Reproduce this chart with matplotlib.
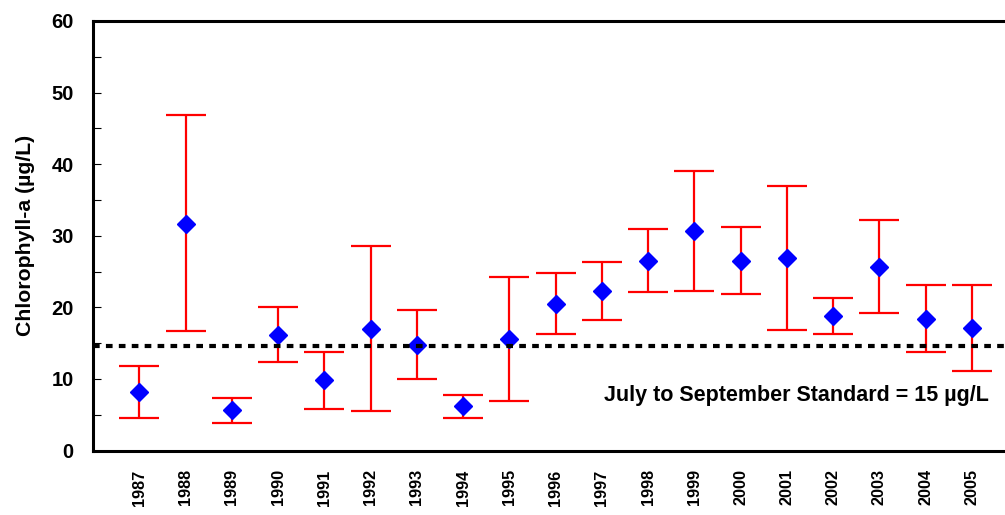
import matplotlib
matplotlib.use("Agg")
import matplotlib.pyplot as plt
from matplotlib.ticker import MultipleLocator

years = [1987, 1988, 1989, 1990, 1991, 1992, 1993, 1994, 1995, 1996,
         1997, 1998, 1999, 2000, 2001, 2002, 2003, 2004, 2005]
means = [8.2, 31.7, 5.6, 16.2, 9.8, 17.0, 14.7, 6.2, 15.6, 20.5,
         22.3, 26.5, 30.7, 26.5, 26.9, 18.8, 25.7, 18.4, 17.1]
upper = [11.85, 46.9, 7.4, 20.1, 13.8, 28.5, 19.6, 7.8, 24.3, 24.8,
         26.3, 30.9, 39.0, 31.2, 36.9, 21.3, 32.2, 23.1, 23.1]
lower = [4.6, 16.7, 3.9, 12.3, 5.8, 5.5, 10.0, 4.6, 6.9, 16.3,
         18.3, 22.1, 22.3, 21.8, 16.9, 16.3, 19.2, 13.8, 11.15]
standard_line = 14.6
year_labels = [str(y) for y in years]

plt.rcParams['font.family'] = ['Liberation Sans', 'DejaVu Sans']
plt.rcParams['font.weight'] = 'bold'

fig = plt.figure(figsize=(10.05, 5.15), dpi=100)
W, H = 1005, 515
left, right, top, bottom = 93, 1018, 21, 450.5
ax = fig.add_axes([left / W, (H - bottom) / H, (right - left) / W, (bottom - top) / H])

x = list(range(len(years)))
yerr = [[m - l for m, l in zip(means, lower)], [u - m for u, m in zip(upper, means)]]
ax.errorbar(x, means, yerr=yerr, fmt='none', ecolor='#ff0000', elinewidth=1.6,
            capsize=14.5, capthick=1.6, zorder=2)
ax.plot(x, means, linestyle='none', marker='D', markersize=9, color='#0000ff',
        markeredgecolor='#0000ff', zorder=3)

ax.axhline(standard_line, color='black', linewidth=3, linestyle=(0, (1.6, 1.5)), zorder=4)

ax.text(18.38, 7.75, 'July to September Standard = 15 µg/L', ha='right', va='center',
        fontsize=15.5, fontweight='bold')

ax.set_xlim(-1, 19)
ax.set_ylim(0, 60)
ax.set_xticks(x)
ax.set_xticklabels(year_labels, rotation=90, fontsize=11.7, fontweight='bold')
ax.tick_params(axis='x', length=0, pad=13.5)
ax.yaxis.set_major_locator(MultipleLocator(10))
ax.yaxis.set_minor_locator(MultipleLocator(5))
ax.tick_params(axis='y', which='both', direction='in', length=5.5, width=0.8,
               labelsize=14.5, pad=14, colors='black')
for lab in ax.get_yticklabels():
    lab.set_fontweight('bold')

ax.set_ylabel('Chlorophyll-a (µg/L)', fontsize=15.3, fontweight='bold', labelpad=12)

for s in ax.spines.values():
    s.set_linewidth(2.2)
ax.spines['right'].set_visible(False)

fig.savefig('out.png', dpi=100)
